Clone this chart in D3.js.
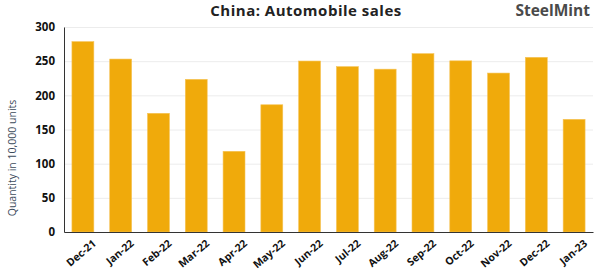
<!DOCTYPE html>
<html>
<head>
<meta charset="utf-8">
<script src="https://cdn.jsdelivr.net/npm/d3@7"></script>
<style>
  body { margin: 0; background: #fff; }
  text { font-family: "Open Sans", "DejaVu Sans", sans-serif; }
</style>
</head>
<body>
<div id="chart"></div>
<script>
// monthly sales, 10,000 units
const months = ["Dec-21", "Jan-22", "Feb-22", "Mar-22", "Apr-22", "May-22", "Jun-22",
                "Jul-22", "Aug-22", "Sep-22", "Oct-22", "Nov-22", "Dec-22", "Jan-23"];
const sales = [278.6, 253.1, 173.7, 223.4, 118.1, 186.2, 250.2,
               242.0, 238.3, 261.0, 250.5, 232.6, 255.6, 164.9];
const yTicks = [0, 50, 100, 150, 200, 250, 300];

const w = 604;
const h = 270;
const m = {top: 27, right: 11, bottom: 38, left: 64};

const svg = d3.select("#chart")
              .append("svg")
              .attr("width", w)
              .attr("height", h)

const x = d3.scaleBand()
            .domain(months)
            .range([m.left, w - m.right])
            .paddingInner(0.42)
            .paddingOuter(0.21)

const y = d3.scaleLinear()
            .domain([0, 300])
            .range([h - m.bottom, m.top])

// gridlines
svg.append("g")
   .selectAll("line")
   .data(yTicks.slice(1))
   .enter()
   .append("line")
   .attr("x1", m.left)
   .attr("x2", w - m.right)
   .attr("y1", d => y(d) + 0.5)
   .attr("y2", d => y(d) + 0.5)
   .attr("stroke", "#ececec")

// y axis
const yAxis = svg.append("g")
   .attr("transform", `translate(${m.left},0)`)
   .call(d3.axisLeft(y).tickValues(yTicks).tickSize(0).tickPadding(9))
yAxis.select(".domain").attr("stroke", "#333")
yAxis.selectAll("text")
     .attr("font-size", 11.5)
     .attr("font-weight", "bold")
     .attr("fill", "#111")

// bars
svg.selectAll("rect.bar")
   .data(sales)
   .enter()
   .append("rect")
   .attr("class", "bar")
   .attr("x", (d, i) => x(months[i]))
   .attr("y", d => y(d))
   .attr("width", x.bandwidth())
   .attr("height", d => y(0) - y(d))
   .attr("fill", "#f0aa0b")
   .attr("stroke", "#f6c458")
   .attr("stroke-width", 0.6)

// x axis
const xAxis = svg.append("g")
   .attr("transform", `translate(0,${h - m.bottom})`)
   .call(d3.axisBottom(x).tickSize(0).tickPadding(6))
xAxis.select(".domain").attr("stroke", "#333")
xAxis.selectAll("text")
     .attr("font-size", 10.5)
     .attr("font-weight", "bold")
     .attr("fill", "#111")
     .attr("text-anchor", "end")
     .attr("dy", "0.75em")
     .attr("transform", "translate(5,2) rotate(-40)")

// axis title
svg.append("text")
   .attr("transform", "translate(16,158) rotate(-90)")
   .attr("text-anchor", "middle")
   .attr("font-size", 10.5)
   .attr("fill", "#3b4a5a")
   .text("Quantity in 10,000 units")

// title
svg.append("text")
   .attr("x", 306)
   .attr("y", 16)
   .attr("text-anchor", "middle")
   .attr("font-size", 15)
   .attr("font-weight", "bold")
   .attr("letter-spacing", 0.5)
   .attr("fill", "#222")
   .text("China: Automobile  sales")

// logo
svg.append("text")
   .attr("x", 590)
   .attr("y", 16)
   .attr("text-anchor", "end")
   .attr("font-size", 15.5)
   .attr("font-weight", "bold")
   .attr("fill", "#4a4a4a")
   .text("SteelMint")
</script>
</body>
</html>
